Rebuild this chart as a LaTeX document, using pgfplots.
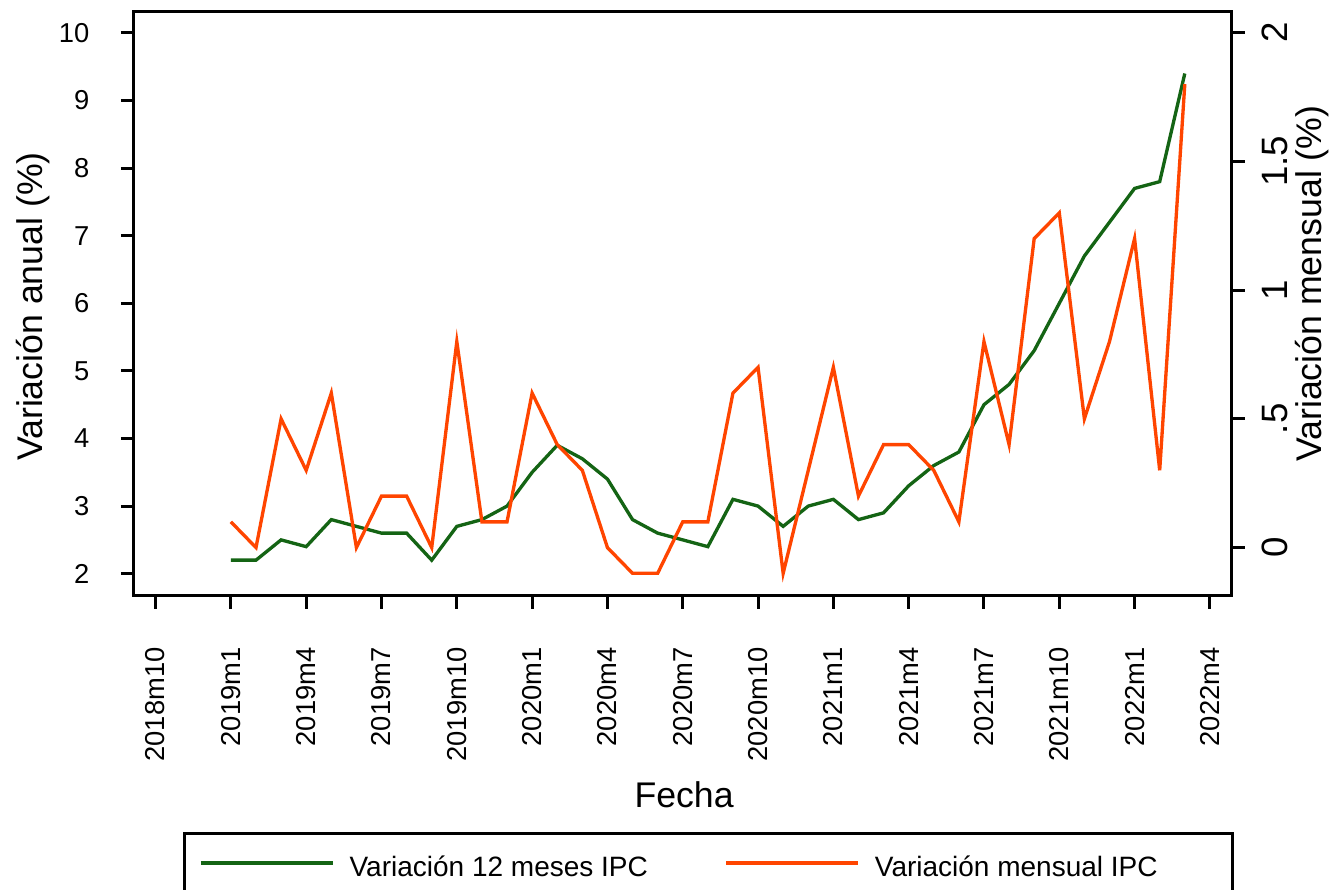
\documentclass[border=0pt]{standalone}
\usepackage{pgfplots}
\pgfplotsset{compat=1.18}
\usepackage{fontspec}
\setmainfont{Liberation Sans}
\definecolor{verde}{RGB}{20,100,20}
\definecolor{naranja}{RGB}{255,69,0}

\pgfplotsset{
  comun/.style={
    scale only axis, width=329.4pt, height=175.2pt,
    xmin=-0.86, xmax=42.88,
    tick align=outside, major tick length=3.9pt,
    axis line style={line width=0.9pt},
    every tick/.style={black, line width=0.9pt},
    tick label style={font=\fontsize{8.2}{10}\selectfont},
    label style={font=\fontsize{10.7}{12}\selectfont},
    /pgf/number format/assume math mode=true,
  },
}

\begin{document}
\begin{tikzpicture}
\begin{axis}[comun, name=ax,
  ymin=1.67, ymax=10.31,
  xtick pos=bottom, ytick pos=left,
  xtick={0,3,...,42},
  xticklabels={2018m10,2019m1,2019m4,2019m7,2019m10,2020m1,2020m4,2020m7,2020m10,2021m1,2021m4,2021m7,2021m10,2022m1,2022m4},
  xticklabel style={rotate=90, anchor=east},
  xticklabel shift=8pt,
  ytick={2,3,...,10},
  yticklabel shift=6pt,
  xlabel={Fecha},
  xlabel style={at={(rel axis cs:0.501,-0.3408)}, anchor=center},
  ylabel={Variación anual (\%)},
  ylabel style={at={(rel axis cs:-0.092,0.4957)}, anchor=center},
]
% variacion 12 meses, 2019m1 a 2022m3
\addplot[verde, line width=1pt] coordinates {
(3,2.2) (4,2.2) (5,2.5) (6,2.4) (7,2.8) (8,2.7) (9,2.6) (10,2.6) (11,2.2) (12,2.7)
(13,2.8) (14,3.0) (15,3.5) (16,3.9) (17,3.7) (18,3.4) (19,2.8) (20,2.6) (21,2.5) (22,2.4)
(23,3.1) (24,3.0) (25,2.7) (26,3.0) (27,3.1) (28,2.8) (29,2.9) (30,3.3) (31,3.6) (32,3.8)
(33,4.5) (34,4.8) (35,5.3) (36,6.0) (37,6.7) (38,7.2) (39,7.7) (40,7.8) (41,9.4)
};
\end{axis}

\begin{axis}[comun,
  ymin=-0.188, ymax=2.08,
  axis x line=none, axis y line*=right,
  ytick={0,0.5,1,1.5,2},
  yticklabels={0,.5,1,1.5,2},
  yticklabel style={rotate=90, anchor=north, font=\fontsize{11}{12}\selectfont},
  yticklabel shift=1.5pt,
  ylabel={Variación mensual (\%)},
  ylabel style={at={(rel axis cs:1.0729,0.535)}, anchor=center},
  legend columns=2,
  legend image code/.code={\draw[#1] (0pt,1.8pt) -- (39.6pt,1.8pt);},
  legend style={at={(0.0446,-0.4041)}, anchor=north west,
    draw=black, line width=0.8pt, inner xsep=4.5pt, inner ysep=4.9pt,
    font=\fontsize{8.4}{10}\selectfont,
    /tikz/every odd column/.style={column sep=2.5pt},
    /tikz/column 2/.style={column sep=21pt}},
]
\addlegendimage{verde, line width=1pt}
\addlegendentry{Variación 12 meses IPC}
% variacion mensual
\addplot[naranja, line width=1pt] coordinates {
(3,0.1) (4,0.0) (5,0.5) (6,0.3) (7,0.6) (8,0.0) (9,0.2) (10,0.2) (11,0.0) (12,0.8)
(13,0.1) (14,0.1) (15,0.6) (16,0.4) (17,0.3) (18,0.0) (19,-0.1) (20,-0.1) (21,0.1) (22,0.1)
(23,0.6) (24,0.7) (25,-0.1) (26,0.3) (27,0.7) (28,0.2) (29,0.4) (30,0.4) (31,0.3) (32,0.1)
(33,0.8) (34,0.4) (35,1.2) (36,1.3) (37,0.5) (38,0.8) (39,1.2) (40,0.3) (41,1.8)
};
\addlegendentry{Variación mensual IPC\kern16pt}
\end{axis}
\pgfresetboundingbox
\path[use as bounding box] ([shift={(-40.2pt,-88.2pt)}]ax.south west) rectangle ([shift={(30pt,3.6pt)}]ax.north east);
\end{tikzpicture}
\end{document}
